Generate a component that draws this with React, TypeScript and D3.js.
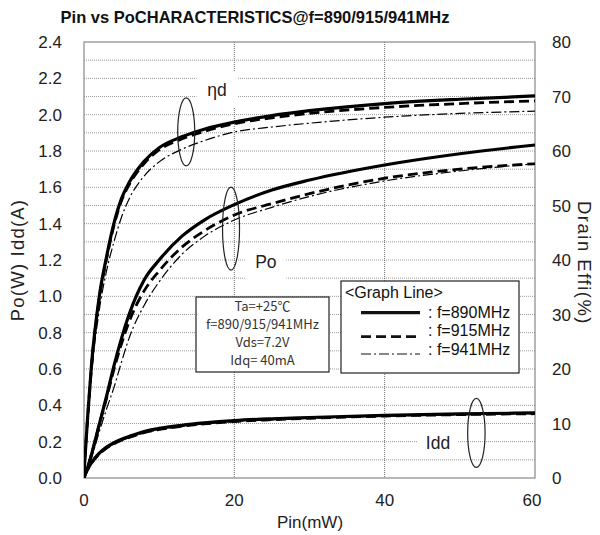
import React from "react";
import * as d3 from "d3";

// ---- Data ----
const pins = [0, 0.5, 1, 2, 3, 4, 5, 6, 8, 10, 13, 16, 20, 25, 30, 40, 50, 60];

// Drain efficiency (%) – right axis
const eff890 = [1, 11.5, 20.8, 33, 40.6, 46.8, 51.3, 54.2, 58.1, 60.6, 62.6, 64.0, 65.3, 66.5, 67.4, 68.7, 69.5, 70.1];
const eff915 = [1, 11.3, 20.5, 32.6, 40.2, 46.4, 50.9, 53.8, 57.7, 60.2, 62.2, 63.6, 65.0, 66.1, 66.9, 68.0, 68.7, 69.2];
const eff941 = [1, 10.5, 19, 30.5, 38, 43.4, 47.9, 51.2, 55.4, 58.0, 60.3, 61.9, 63.5, 64.4, 65.1, 66.2, 66.9, 67.3];

// Output power (W) – left axis
const po890 = [0, 0.06, 0.13, 0.29, 0.45, 0.62, 0.77, 0.9, 1.09, 1.2, 1.33, 1.42, 1.505, 1.585, 1.64, 1.723, 1.785, 1.833];
const po915 = [0, 0.06, 0.13, 0.29, 0.44, 0.6, 0.74, 0.86, 1.03, 1.14, 1.27, 1.36, 1.448, 1.51, 1.565, 1.65, 1.70, 1.73];
const po941 = [0, 0.05, 0.11, 0.25, 0.38, 0.5, 0.64, 0.77, 0.95, 1.08, 1.23, 1.33, 1.42, 1.49, 1.55, 1.635, 1.69, 1.73];

// Drain current (A) – left axis
const idd890 = [0.01, 0.05, 0.085, 0.135, 0.17, 0.195, 0.214, 0.229, 0.256, 0.273, 0.29, 0.303, 0.316, 0.326, 0.333, 0.345, 0.353, 0.358];
const idd915 = [0.01, 0.048, 0.082, 0.13, 0.164, 0.189, 0.208, 0.223, 0.25, 0.267, 0.285, 0.298, 0.311, 0.321, 0.329, 0.341, 0.349, 0.354];
const idd941 = [0.01, 0.047, 0.08, 0.128, 0.162, 0.187, 0.206, 0.221, 0.248, 0.265, 0.283, 0.297, 0.310, 0.320, 0.328, 0.340, 0.348, 0.353];

const xTicks = [0, 20, 40, 60];
const yLeftTicks = [0, 0.2, 0.4, 0.6, 0.8, 1.0, 1.2, 1.4, 1.6, 1.8, 2.0, 2.2, 2.4];
const yRightTicks = [0, 10, 20, 30, 40, 50, 60, 70, 80];
const freqs = ["f=890MHz", "f=915MHz", "f=941MHz"];
const conditions = ["Ta=+25℃", "f=890/915/941MHz", "Vds=7.2V", "Idq= 40mA"];

const title = "Pin vs PoCHARACTERISTICS@f=890/915/941MHz";

// ---- Layout ----
const W = 600;
const H = 535;
const L = 84, R = 535, T = 42, B = 478;
const FONT = "'Liberation Sans', Arial, sans-serif";

const styles = [
  { w: 3.2, dash: "none" },
  { w: 2.8, dash: "10,5" },
  { w: 1.2, dash: "10,3,2,3" },
];

export default function App() {
  const x = d3.scaleLinear().domain([0, 60]).range([L, R]);
  const yL = d3.scaleLinear().domain([0, 2.4]).range([B, T]);
  const yR = d3.scaleLinear().domain([0, 80]).range([B, T]);

  const mk = (vals: number[], y: d3.ScaleLinear<number, number>) =>
    d3
      .line<number>()
      .x((_, i) => x(pins[i]))
      .y((v) => y(v))
      .curve(d3.curveMonotoneX)(vals) as string;

  const groups = [
    { vals: [eff890, eff915, eff941], y: yR },
    { vals: [po890, po915, po941], y: yL },
    { vals: [idd890, idd915, idd941], y: yL },
  ];

  const minor = d3.range(1, 24).map((i) => i / 10);

  const ellipses = [
    { pin: 13.6, v: 1.905, rx: 8.5, ry: 34 },
    { pin: 19.56, v: 1.373, rx: 8.5, ry: 41.5 },
    { pin: 52.2, v: 0.248, rx: 8.7, ry: 34.5 },
  ];
  const labels = [
    { t: "ηd", pin: 17.7, v: 2.136, bw: 41, bh: 36 },
    { t: "Po", pin: 24.2, v: 1.189, bw: 41, bh: 34 },
    { t: "Idd", pin: 47.1, v: 0.193, bw: 40, bh: 22 },
  ];

  return (
    <svg width={W} height={H} style={{ position: "absolute", left: 0, top: 0, background: "#fff" }}>
      <defs>
        <clipPath id="plot">
          <rect x={L} y={T} width={R - L} height={B - T} />
        </clipPath>
      </defs>
      <rect x={0} y={0} width={W} height={H} fill="#fff" />
      <text x={255} y={23} textAnchor="middle" fontFamily={FONT} fontWeight="bold" fontSize={16.5} fill="#111">
        {title}
      </text>

      {/* grid */}
      {minor.map((v) => (
        <line key={"h" + v} x1={L} x2={R} y1={yL(v)} y2={yL(v)} stroke="#9a9a9a" strokeWidth={1} strokeDasharray="1,1" />
      ))}
      {[20, 40].map((v) => (
        <line key={"v" + v} x1={x(v)} x2={x(v)} y1={T} y2={B} stroke="#6a6a6a" strokeWidth={1} strokeDasharray="1,1" />
      ))}

      {/* label backgrounds & labels */}
      {labels.map((l) => (
        <g key={l.t}>
          <rect x={x(l.pin) - l.bw / 2} y={yL(l.v) - l.bh / 2} width={l.bw} height={l.bh} fill="#fff" />
          <text x={x(l.pin)} y={yL(l.v) + 6} textAnchor="middle" fontFamily={FONT} fontSize={17.5} fill="#222">
            {l.t}
          </text>
        </g>
      ))}

      {/* plot border */}
      <rect x={L} y={T} width={R - L} height={B - T} fill="none" stroke="#888" strokeWidth={1.2} />

      {/* condition box */}
      <rect x={196} y={297} width={133} height={75} fill="#fff" stroke="#222" strokeWidth={1.2} />
      {conditions.map((c, i) => (
        <text key={c} x={262.5} y={311 + i * 18} textAnchor="middle" fontFamily="'Noto Sans CJK JP', sans-serif" fontSize={13} fill="#333">
          {c}
        </text>
      ))}

      {/* legend box */}
      <rect x={341} y={281} width={178} height={92} fill="#fff" stroke="#222" strokeWidth={1.2} />
      <text x={345} y={298} fontFamily={FONT} fontSize={16} fill="#111">
        {"<Graph Line>"}
      </text>
      {freqs.map((f, i) => {
        const ty = [318, 336, 355][i];
        const ly = [312.7, 336.7, 354][i];
        return (
          <g key={f}>
            <line x1={361} x2={420} y1={ly} y2={ly} stroke="#111" strokeWidth={styles[i].w} strokeDasharray={styles[i].dash} />
            <text x={428} y={ty} fontFamily={FONT} fontSize={16} fill="#111">
              {": " + f}
            </text>
          </g>
        );
      })}

      {/* curves */}
      <g clipPath="url(#plot)">
        {groups.map((g, gi) =>
          g.vals.map((vals, si) => (
            <path
              key={gi + "-" + si}
              d={mk(vals, g.y)}
              fill="none"
              stroke="#000"
              strokeWidth={styles[si].w}
              strokeDasharray={styles[si].dash}
              strokeLinejoin="round"
            />
          ))
        )}
      </g>

      {/* ellipses */}
      {ellipses.map((e, i) => (
        <ellipse key={i} cx={x(e.pin)} cy={yL(e.v)} rx={e.rx} ry={e.ry} fill="none" stroke="#222" strokeWidth={1.2} />
      ))}

      {/* axes labels */}
      {yLeftTicks.map((v) => (
        <text key={"l" + v} x={62} y={yL(v) + 6} textAnchor="end" fontFamily={FONT} fontSize={17} fill="#222">
          {v.toFixed(1)}
        </text>
      ))}
      {yRightTicks.map((v) => (
        <text key={"r" + v} x={552} y={yR(v) + 6} textAnchor="start" fontFamily={FONT} fontSize={17} fill="#222">
          {v}
        </text>
      ))}
      {xTicks.map((v) => (
        <text key={"x" + v} x={x(v) - (v === 60 ? 3 : 0)} y={506} textAnchor="middle" fontFamily={FONT} fontSize={17} fill="#222">
          {v}
        </text>
      ))}
      <text x={310} y={528} textAnchor="middle" fontFamily={FONT} fontSize={17} fill="#222">
        Pin(mW)
      </text>
      <text transform={`translate(24,${260}) rotate(-90)`} textAnchor="middle" fontFamily={FONT} fontSize={18.5} letterSpacing={1.2} fill="#222">
        {"Po(W)  Idd(A)"}
      </text>
      <text transform={`translate(578,${263}) rotate(90)`} textAnchor="middle" fontFamily={FONT} fontSize={18.5} letterSpacing={1.5} fill="#222">
        {"Drain Effi(%)"}
      </text>
    </svg>
  );
}
